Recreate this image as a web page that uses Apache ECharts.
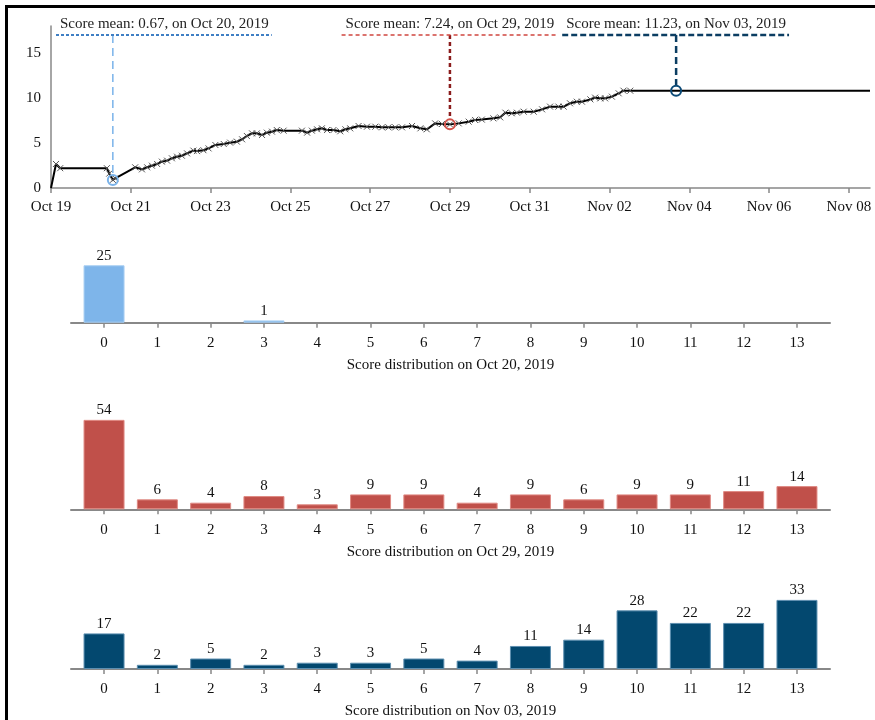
<!DOCTYPE html>
<html><head><meta charset="utf-8">
<script src="https://cdn.jsdelivr.net/npm/echarts@6/dist/echarts.min.js"></script>
<style>
html,body{margin:0;padding:0;background:#fff;overflow:hidden;width:875px;height:720px;}
#frame{position:absolute;left:5px;top:5px;width:1000px;height:1000px;border:3px solid #000;box-sizing:border-box;}
#chart{position:absolute;left:0;top:0;width:875px;height:720px;}
</style></head><body>
<div id="frame"></div><div id="chart"></div>
<script>
// ---- data ----
const baseYear = 2019, baseMonth = 9, baseDay = 19; // day 0 = Oct 19, 2019
const lineDays = [0, 0.125, 0.23, 1.40, 1.46, 1.55, 1.61, 2.11, 2.28, 2.41, 2.53, 2.66, 2.78, 2.91, 3.03, 3.16, 3.28, 3.41, 3.57, 3.66, 3.82, 3.95, 4.12, 4.33, 4.49, 4.66, 4.79, 4.91, 5.04, 5.16, 5.29, 5.41, 5.54, 5.66, 5.83, 6.29, 6.42, 6.54, 6.67, 6.79, 6.92, 7.08, 7.25, 7.38, 7.50, 7.71, 7.92, 8.13, 8.30, 8.46, 8.63, 8.80, 9.05, 9.26, 9.42, 9.63, 9.80, 10.0, 10.22, 10.47, 10.63, 10.80, 11.09, 11.26, 11.39, 11.55, 11.68, 11.85, 12.10, 12.31, 12.51, 12.72, 12.85, 13.01, 13.18, 13.31, 13.52, 13.64, 13.77, 13.89, 14.06, 14.23, 14.35, 14.52, 20.53];
const lineScores = [0, 2.67, 2.2, 2.2, 1.6, 0.9, 1.07, 2.3, 2.07, 2.3, 2.48, 2.67, 2.93, 3.04, 3.3, 3.48, 3.59, 3.85, 4.15, 4.1, 4.2, 4.4, 4.78, 4.89, 5.04, 5.15, 5.41, 5.78, 6.07, 6.07, 5.89, 6.15, 6.26, 6.44, 6.37, 6.37, 6.15, 6.37, 6.52, 6.63, 6.44, 6.44, 6.3, 6.52, 6.63, 6.89, 6.81, 6.81, 6.74, 6.74, 6.74, 6.74, 6.89, 6.63, 6.52, 7.18, 7.11, 7.07, 7.18, 7.37, 7.56, 7.6, 7.74, 7.85, 8.37, 8.3, 8.37, 8.48, 8.48, 8.74, 9.04, 9.04, 9.04, 9.41, 9.59, 9.59, 9.85, 10.04, 9.96, 9.96, 10.15, 10.52, 10.81, 10.81, 10.81];
const xRangeDays = [0, 20.53];
const yRange = [0, 18];
const yTickValues = [0, 5, 10, 15];
const annDays = [1.55, 10.0, 15.67];
const annScores = [0.9, 7.07, 10.81];
const annMeans = [0.67, 7.24, 11.23];
const annDates = ['Oct 20, 2019', 'Oct 29, 2019', 'Nov 03, 2019'];
const annTopValue = 17;
const scoreCats = [0,1,2,3,4,5,6,7,8,9,10,11,12,13];
const distOct20 = [25,0,0,1,0,0,0,0,0,0,0,0,0,0];
const distOct29 = [54,6,4,8,3,9,9,4,9,6,9,9,11,14];
const distNov03 = [17,2,5,2,3,3,5,4,11,14,28,22,22,33];
const distTitles = ['Score distribution on Oct 20, 2019','Score distribution on Oct 29, 2019','Score distribution on Nov 03, 2019'];

// ---- styles ----
const FONT = '"Liberation Serif", "Times New Roman", serif';
const FS = 15;
const annStyles = [
  {v:{stroke:'#7ab3ea', lineWidth:1.5, lineDash:[8,5]}, u:{stroke:'#3f7fc4', lineWidth:2, lineDash:[3,2]}, c:'#7ab3ea'},
  {v:{stroke:'#8b1c1c', lineWidth:2.5, lineDash:[4,3]}, u:{stroke:'#d0463f', lineWidth:1.5, lineDash:[4,3]}, c:'#d2524a'},
  {v:{stroke:'#0b3d62', lineWidth:2.5, lineDash:[7,4]}, u:{stroke:'#0b3d62', lineWidth:2.5, lineDash:[6,3]}, c:'#0b4a77'}
];
const barColors = [{c:'#7eb5ea', b:'#a9cff3'}, {c:'#c0504a', b:'#e08a84'}, {c:'#03486f', b:'#5d8fb0'}];
const barGrids = [
  {top:240, bottom:720-322.7, max:36},
  {top:400, bottom:720-509.3, max:66},
  {top:580, bottom:720-669.3, max:42.5}
];

const measureCtx = document.createElement('canvas').getContext('2d');
measureCtx.font = FS + 'px ' + FONT;
function dayLabel(d) {
  const dt = new Date(baseYear, baseMonth, baseDay + Math.round(d));
  const m = ['Jan','Feb','Mar','Apr','May','Jun','Jul','Aug','Sep','Oct','Nov','Dec'][dt.getMonth()];
  return m + ' ' + String(dt.getDate()).padStart(2,'0');
}

const lineData = lineDays.map((d,i) => {
  const item = {value:[d, lineScores[i]]};
  if (i === 0 || i === lineDays.length - 1) item.symbol = 'none';
  return item;
});
const annData = annDays.map((d,i) => [d, annScores[i], i]);

const axisGray = '#888';
const grids = [{left:51, right:5, top:26, bottom:532}];
const xAxes = [{
  type:'value', gridIndex:0, min:xRangeDays[0], max:xRangeDays[1], interval:2,
  axisLine:{lineStyle:{color:axisGray, width:1.5}},
  axisTick:{length:5, lineStyle:{color:axisGray, width:1.5}},
  axisLabel:{showMaxLabel:false, margin:12, color:'#111', fontSize:FS, fontFamily:FONT, formatter:v => dayLabel(v)},
  splitLine:{show:false}
}];
const yAxes = [{
  type:'value', gridIndex:0, min:yRange[0], max:yRange[1],
  axisLine:{show:true, lineStyle:{color:axisGray, width:1.5}},
  axisTick:{show:false},
  axisLabel:{customValues:yTickValues, margin:10, color:'#111', fontSize:FS, fontFamily:FONT},
  splitLine:{show:false}
}];
const series = [
  {type:'line', xAxisIndex:0, yAxisIndex:0, data:lineData, showSymbol:true, showAllSymbol:true,
   symbol:'path://M0,0L10,10M0,10L10,0', symbolSize:6,
   itemStyle:{color:'#555', borderColor:'#555', borderWidth:1},
   lineStyle:{color:'#000', width:2}, z:3, silent:true},
  {type:'custom', xAxisIndex:0, yAxisIndex:0, data:annData, z:5, silent:true, clip:false,
   renderItem:function(params, api){
     const i = params.dataIndex;
     const p = api.coord([api.value(0), api.value(1)]);
     const top = api.coord([api.value(0), annTopValue])[1];
     const st = annStyles[i];
     const text = 'Score mean: ' + annMeans[i].toFixed(2) + ', on ' + annDates[i];
     const w = measureCtx.measureText(text).width;
     const cs = params.coordSys;
     let cx = Math.max(p[0], cs.x + 9 + w/2);
     cx = Math.min(cx, cs.x + cs.width - w/2 - 5);
     const r = 5;
     return {type:'group', children:[
       {type:'line', shape:{x1:p[0], y1:top, x2:p[0], y2:p[1]-r}, style:Object.assign({fill:null}, st.v)},
       {type:'line', shape:{x1:cx-w/2-4, y1:top, x2:cx+w/2+3, y2:top}, style:Object.assign({fill:null}, st.u)},
       {type:'text', x:cx, y:top-3, style:{text:text, fill:'#222', font:FS + 'px ' + FONT, textAlign:'center', textVerticalAlign:'bottom'}},
       {type:'circle', shape:{cx:p[0], cy:p[1], r:r}, style:{fill:'none', stroke:st.c, lineWidth:2}}
     ]};
   }}
];

[distOct20, distOct29, distNov03].forEach((dist, k) => {
  const gi = k + 1;
  grids.push({left:71, right:45, top:barGrids[k].top, bottom:barGrids[k].bottom});
  xAxes.push({
    type:'value', gridIndex:gi, min:-0.62, max:13.62,
    name:distTitles[k], nameLocation:'middle', nameGap:35,
    nameTextStyle:{color:'#111', fontSize:FS, fontFamily:FONT},
    axisLine:{lineStyle:{color:axisGray, width:2}},
    axisTick:{customValues:scoreCats, length:5, lineStyle:{color:axisGray, width:1.5}},
    axisLabel:{customValues:scoreCats, margin:13, color:'#111', fontSize:FS, fontFamily:FONT},
    splitLine:{show:false}
  });
  yAxes.push({type:'value', gridIndex:gi, min:0, max:barGrids[k].max, show:false, splitLine:{show:false}});
  series.push({
    type:'bar', xAxisIndex:gi, yAxisIndex:gi, barWidth:41,
    data:scoreCats.map((c,j) => ({value:[c, dist[j]], itemStyle: dist[j] === 0 ? {borderWidth:0, color:'transparent'} : undefined})),
    itemStyle:{color:barColors[k].c, borderColor:barColors[k].b, borderWidth:1},
    label:{show:true, position:'top', distance:2, color:'#111', fontSize:FS, fontFamily:FONT,
      formatter:p => p.value[1] === 0 ? '' : String(p.value[1])},
    silent:true
  });
});

const chart = echarts.init(document.getElementById('chart'), null, {renderer:'canvas'});
chart.setOption({animation:false, backgroundColor:'transparent', grid:grids, xAxis:xAxes, yAxis:yAxes, series:series});
</script>
</body></html>
